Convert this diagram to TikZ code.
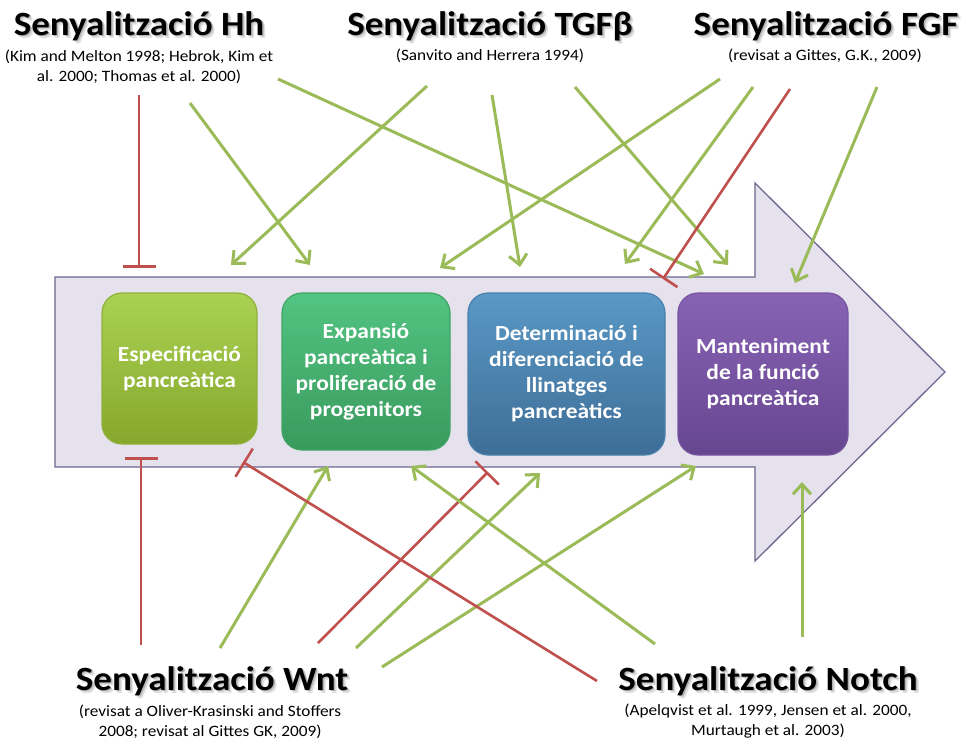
\documentclass[tikz,border=0pt]{standalone}
\usepackage{fontspec}
\setmainfont[FakeStretch=1.09]{Carlito}
\usetikzlibrary{arrows.meta}
\definecolor{agreen}{HTML}{9BBB59}
\definecolor{ared}{HTML}{C0504D}
\definecolor{arrowfill}{HTML}{E5E2ED}
\definecolor{arrowline}{HTML}{6E6790}
\definecolor{c1t}{HTML}{AAD153}\definecolor{c1b}{HTML}{86A82C}\definecolor{c1d}{HTML}{8FB13A}
\definecolor{c2t}{HTML}{52C482}\definecolor{c2b}{HTML}{3A9A5E}\definecolor{c2d}{HTML}{3FA565}
\definecolor{c3t}{HTML}{5A98C6}\definecolor{c3b}{HTML}{3E6E97}\definecolor{c3d}{HTML}{4A80AC}
\definecolor{c4t}{HTML}{8863B5}\definecolor{c4b}{HTML}{674690}\definecolor{c4d}{HTML}{7554A0}
\newcommand\shtext[1]{\leavevmode\rlap{\kern3pt\raisebox{-3pt}{\color{black!12}#1}}\rlap{\kern1.5pt\raisebox{-1.5pt}{\color{black!30}#1}}#1}
\tikzset{
  title/.style={font=\bfseries\fontsize{34}{40}\selectfont, inner sep=0pt, anchor=base},
  cite/.style={font=\fontsize{15.8}{19.5}\selectfont, align=center, inner sep=0pt},
  stage/.style={rounded corners=20pt, text=white, align=center, inner sep=2pt,
    font=\bfseries\fontsize{21.5}{26}\selectfont, line width=1.2pt},
  act/.style={draw=agreen, line width=3pt, -{Straight Barb[length=10pt,width=18pt,line width=3pt]}},
  inh/.style={draw=ared, line width=2.6pt, -{Bar[width=33pt,line width=2.6pt]}},
  bigarrow/.style={fill=arrowfill, draw=arrowline, line width=1.3pt, line join=miter},
}
\begin{document}
\begin{tikzpicture}[x=1pt,y=-1pt]
\useasboundingbox (0,0) rectangle (966,745);
\fill[white] (0,0) rectangle (966,745);

% big process arrow
\draw[bigarrow] (55,277) -- (755,277) -- (755,183) -- (945,372) -- (755,561) -- (755,467) -- (55,467) -- cycle;

% stage boxes
\node[stage, minimum width=155pt, minimum height=151pt, top color=c1t, bottom color=c1b, draw=c1d] (b1) at (179.5,368.5) {Especificació\\pancreàtica};
\node[stage, minimum width=168pt, minimum height=157pt, top color=c2t, bottom color=c2b, draw=c2d] (b2) at (366,371.5) {Expansió\\pancreàtica i\\proliferació de\\progenitors};
\node[stage, minimum width=197pt, minimum height=162pt, top color=c3t, bottom color=c3b, draw=c3d] (b3) at (566.5,374) {Determinació i\\diferenciació de\\llinatges\\pancreàtics};
\node[stage, minimum width=170pt, minimum height=162pt, top color=c4t, bottom color=c4b, draw=c4d] (b4) at (763,374) {Manteniment\\de la funció\\pancreàtica};

% titles and citations
\node[title] (hh) at (139,35) {\shtext{Senyalització Hh}};
\node[cite] (hhc) at (139,67) {(Kim and Melton 1998; Hebrok, Kim et\\al. 2000; Thomas et al. 2000)};
\node[title] (tgf) at (490,35) {\shtext{Senyalització TGFβ}};
\node[cite] (tgfc) at (490,56) {(Sanvito and Herrera 1994)};
\node[title] (fgf) at (826,35) {\shtext{Senyalització FGF}};
\node[cite] (fgfc) at (825,56) {(revisat a Gittes, G.K., 2009)};
\node[title] (wnt) at (212,690) {\shtext{Senyalització Wnt}};
\node[cite] (wntc) at (210,722) {(revisat a Oliver-Krasinski and Stoffers\\2008; revisat al Gittes GK, 2009)};
\node[title] (notch) at (768,690) {\shtext{Senyalització Notch}};
\node[cite] (notchc) at (768,721) {(Apelqvist et al. 1999, Jensen et al. 2000,\\Murtaugh et al. 2003)};

% connector start points (signal sources)
\coordinate (hh1) at (139,95);
\coordinate (hh2) at (190,103);
\coordinate (hh3) at (278,79);
\coordinate (tg1) at (427,86);
\coordinate (tg2) at (492,95);
\coordinate (tg3) at (575,87);
\coordinate (fg1) at (720,79);
\coordinate (fg2) at (753,87);
\coordinate (fg3) at (790,89);
\coordinate (fg4) at (877,87);
\coordinate (wn1) at (141,645);
\coordinate (wn2) at (220,648);
\coordinate (wn3) at (318,643);
\coordinate (wn4) at (356,648);
\coordinate (wn5) at (382,667);
\coordinate (no1) at (597,681);
\coordinate (no2) at (655,644);
\coordinate (no3) at (802,637);

% connector end points (on the process arrow)
\coordinate (e1) at (139,268);
\coordinate (e2) at (310,265);
\coordinate (e3) at (704,274);
\coordinate (e4) at (231,265);
\coordinate (e5) at (520,267);
\coordinate (e6) at (728,265);
\coordinate (e7) at (440,268);
\coordinate (e8) at (625,264);
\coordinate (e9) at (663,279);
\coordinate (e10) at (795,283);
\coordinate (e11) at (141,457);
\coordinate (e12) at (328,466);
\coordinate (e13) at (488,472);
\coordinate (e14) at (540,473);
\coordinate (e15) at (696,466);
\coordinate (e16) at (243,462);
\coordinate (e17) at (411,466);
\coordinate (e18) at (802,482);

% Hh
\draw[inh] (hh1) -- (e1);
\draw[act] (hh2) -- (e2);
\draw[act] (hh3) -- (e3);
% TGFb
\draw[act] (tg1) -- (e4);
\draw[act] (tg2) -- (e5);
\draw[act] (tg3) -- (e6);
% FGF
\draw[act] (fg1) -- (e7);
\draw[act] (fg2) -- (e8);
\draw[inh] (fg3) -- (e9);
\draw[act] (fg4) -- (e10);
% Wnt
\draw[inh] (wn1) -- (e11);
\draw[act] (wn2) -- (e12);
\draw[inh] (wn3) -- (e13);
\draw[act] (wn4) -- (e14);
\draw[act] (wn5) -- (e15);
% Notch
\draw[inh] (no1) -- (e16);
\draw[act] (no2) -- (e17);
\draw[act] (no3) -- (e18);
\end{tikzpicture}
\end{document}
